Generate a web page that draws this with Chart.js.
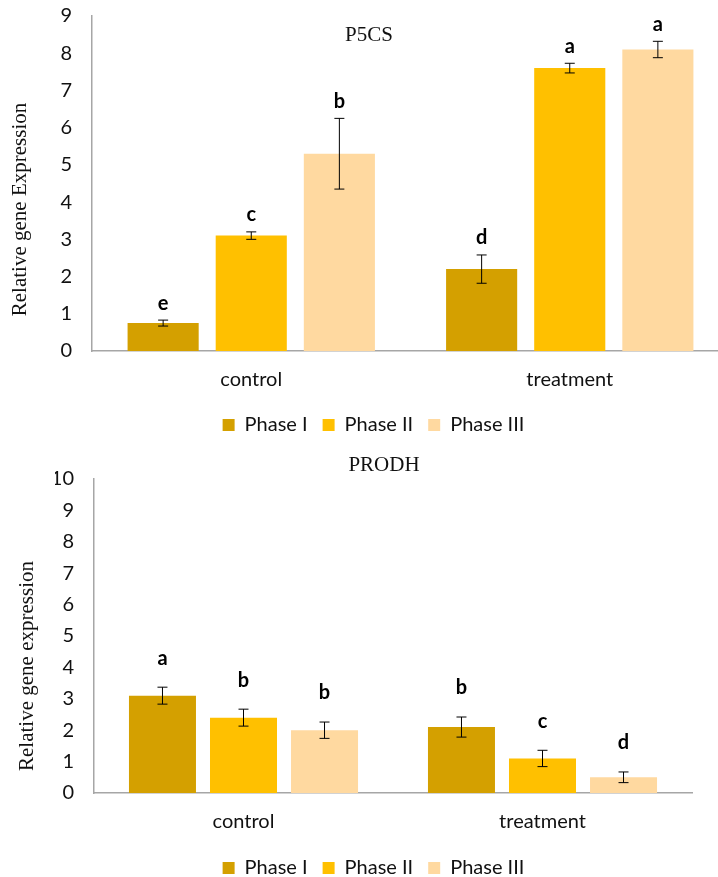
<!DOCTYPE html>
<html>
<head>
<meta charset="utf-8">
<script src="https://cdn.jsdelivr.net/npm/chart.js@4"></script>
<style>
  html, body { margin: 0; padding: 0; background: #fff; overflow: hidden; width: 718px; height: 877px; }
  .box { position: absolute; left: 0; }
</style>
</head>
<body>
<div class="box" style="top:0;width:729px;height:445px"><canvas id="c1"></canvas></div>
<div class="box" style="top:440px;width:718px;height:448px"><canvas id="c2"></canvas></div>
<script>
const categories = ['control', 'treatment'];
const phases = ['Phase I', 'Phase II', 'Phase III'];
const colors = ['#d4a000', '#ffc000', '#ffd9a0'];

// P5CS: one array per phase, [control, treatment]
const p5csValues = [[0.75, 2.2], [3.1, 7.6], [5.3, 8.1]];
const p5csErrors = [[0.08, 0.38], [0.1, 0.13], [0.95, 0.22]];
const p5csLetters = [['e', 'd'], ['c', 'a'], ['b', 'a']];
const p5csTicks = [0, 1, 2, 3, 4, 5, 6, 7, 8, 9];

// PRODH
const prodhValues = [[3.1, 2.1], [2.4, 1.1], [2.0, 0.5]];
const prodhErrors = [[0.27, 0.32], [0.27, 0.26], [0.26, 0.17]];
const prodhLetters = [['a', 'b'], ['b', 'c'], ['b', 'd']];
const prodhTicks = [0, 1, 2, 3, 4, 5, 6, 7, 8, 9, 10];

const SANS = 'Lato, "Open Sans", sans-serif';
const SERIF = '"Liberation Serif", "DejaVu Serif", serif';
const TEXT = '#111';

function makeChart(id, o) {
  const extras = {
    id: 'extras',
    afterDatasetsDraw(chart) {
      const { ctx, chartArea } = chart;
      const y = chart.scales.y;
      ctx.save();
      ctx.strokeStyle = '#000';
      ctx.lineWidth = 1;
      chart.data.datasets.forEach((ds, i) => {
        chart.getDatasetMeta(i).data.forEach((bar, j) => {
          const v = ds.data[j], e = o.errors[i][j];
          const yt = y.getPixelForValue(v + e), yb = y.getPixelForValue(v - e);
          ctx.beginPath();
          ctx.moveTo(bar.x, yt); ctx.lineTo(bar.x, yb);
          ctx.moveTo(bar.x - 5, yt); ctx.lineTo(bar.x + 5, yt);
          ctx.moveTo(bar.x - 5, yb); ctx.lineTo(bar.x + 5, yb);
          ctx.stroke();
          ctx.fillStyle = '#000';
          ctx.font = 'bold 20px ' + SANS;
          ctx.textAlign = 'center';
          ctx.textBaseline = 'middle';
          ctx.fillText(o.letters[i][j], bar.x, yt - o.letterGap);
        });
      });
      ctx.fillStyle = TEXT;
      ctx.font = '21px ' + SERIF;
      ctx.textAlign = 'center';
      ctx.textBaseline = 'middle';
      ctx.fillText(o.title, o.titleX, o.titleY);
      ctx.translate(o.yTitleX, (chartArea.top + chartArea.bottom) / 2 + o.yTitleShift);
      ctx.rotate(-Math.PI / 2);
      ctx.fillText(o.yTitle, 0, 0);
      ctx.restore();
    }
  };

  return new Chart(document.getElementById(id), {
    type: 'bar',
    data: {
      labels: categories,
      datasets: phases.map((p, i) => ({
        label: p,
        data: o.values[i],
        backgroundColor: colors[i],
        borderWidth: 0,
        categoryPercentage: o.catPct,
        barPercentage: o.barPct
      }))
    },
    options: {
      responsive: true,
      maintainAspectRatio: false,
      animation: false,
      layout: { padding: { top: o.padTop, left: o.padLeft, right: o.padRight, bottom: 0 } },
      plugins: {
        legend: {
          position: 'bottom',
          labels: { font: { size: 20, family: SANS }, color: TEXT, boxWidth: 12, boxHeight: 12, padding: 15 }
        },
        tooltip: { enabled: false }
      },
      scales: {
        x: {
          grid: { display: false, drawTicks: false },
          border: { display: true, color: '#a6a6a6', width: 1.5 },
          ticks: { font: { size: 20, family: SANS }, color: TEXT, padding: 17 },
          afterFit: (s) => { s.height = o.xHeight; }
        },
        y: {
          min: 0,
          max: o.ticks[o.ticks.length - 1],
          afterBuildTicks: (s) => { s.ticks = o.ticks.map(v => ({ value: v })); },
          grid: { display: false, drawTicks: false },
          border: { display: true, color: '#a6a6a6', width: 1.5 },
          ticks: { font: { size: 20, family: SANS }, color: TEXT, padding: 20 },
          afterFit: (s) => { s.width = o.yWidth; s.paddingTop = 0; s.paddingBottom = 0; }
        }
      }
    },
    plugins: [extras]
  });
}

makeChart('c1', {
  values: p5csValues, errors: p5csErrors, letters: p5csLetters, ticks: p5csTicks,
  title: 'P5CS', titleX: 369, titleY: 35,
  yTitle: 'Relative gene Expression', yTitleX: 20, yTitleShift: 26,
  catPct: 0.83, barPct: 0.807, padTop: 16, padLeft: 18, padRight: 0,
  xHeight: 49, yWidth: 74, letterGap: 17
});

makeChart('c2', {
  values: prodhValues, errors: prodhErrors, letters: prodhLetters, ticks: prodhTicks,
  title: 'PRODH', titleX: 384, titleY: 25,
  yTitle: 'Relative gene expression', yTitleX: 27, yTitleShift: 30,
  catPct: 0.813, barPct: 0.827, padTop: 39, padLeft: 55, padRight: 26,
  xHeight: 50, yWidth: 39, letterGap: 29
});
</script>
</body>
</html>
